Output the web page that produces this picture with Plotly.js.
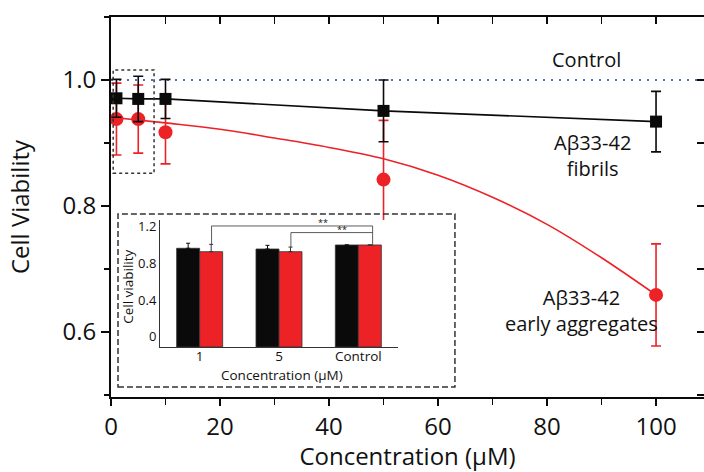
<!DOCTYPE html>
<html>
<head>
<meta charset="utf-8">
<script src="https://cdn.plot.ly/plotly-3.0.1.min.js"></script>
<style>html,body{margin:0;padding:0;background:#fff;}#chart{width:704px;height:472px;}</style>
</head>
<body>
<div id="chart"></div>
<script>
// ---- main chart data ----
const concentrations = [1, 5, 10, 50, 100];
const fibrilsViability = [0.971, 0.970, 0.970, 0.951, 0.934];
const fibrilsError = [0.030, 0.036, 0.031, 0.049, 0.048];
const earlyViability = [0.938, 0.938, 0.917, 0.842, 0.659];
const earlyError = [0.057, 0.054, 0.050, 0.094, 0.081];
// fitted curve for early aggregates
const fitConc = [0, 10, 20, 30, 40, 50, 60, 70, 80, 90, 100];
const fitViability = [0.941, 0.932, 0.922, 0.908, 0.893, 0.875, 0.849, 0.814, 0.771, 0.718, 0.659];
const controlLevel = [1.0, 1.0];
const controlConc = [0, 110];
// ---- inset data ----
const insetCategories = ['1', '5', 'Control'];
const insetFibrils = [0.964, 0.956, 1.0];
const insetFibrilsErr = [0.055, 0.040, 0.0];
const insetEarly = [0.927, 0.927, 1.0];
const insetEarlyErr = [0.080, 0.050, 0.0];

const RED = '#ec2227';
const BLK = '#0a0a0a';
const FONT = 'Open Sans';
const insetBase = -0.112;

const traces = [
  {x: controlConc, y: controlLevel, mode: 'lines', line: {color: '#4a6fd0', width: 2, dash: '2px,6px'}, hoverinfo: 'skip'},
  {x: fitConc, y: fitViability, mode: 'lines', line: {color: RED, width: 1.6, shape: 'spline'}},
  {x: concentrations, y: earlyViability, mode: 'markers',
   marker: {symbol: 'circle', size: 14, color: RED},
   error_y: {type: 'data', array: earlyError, color: RED, thickness: 1.6, width: 5}},
  {x: concentrations, y: fibrilsViability, mode: 'lines+markers',
   line: {color: BLK, width: 1.6},
   marker: {symbol: 'square', size: 12, color: BLK},
   error_y: {type: 'data', array: fibrilsError, color: BLK, thickness: 1.6, width: 5}},
  {x: [], y: [], xaxis: 'x2', yaxis: 'y2', mode: 'markers'},
  // inset bars
  {type: 'bar', x: insetCategories, y: insetFibrils.map(v => v - insetBase), base: insetBase,
   xaxis: 'x3', yaxis: 'y3', marker: {color: BLK, line: {color: '#333', width: 0.8}},
   error_y: {type: 'data', symmetric: false, array: insetFibrilsErr, arrayminus: [0, 0, 0], color: BLK, thickness: 1, width: 2}},
  {type: 'bar', x: insetCategories, y: insetEarly.map(v => v - insetBase), base: insetBase,
   xaxis: 'x3', yaxis: 'y3', marker: {color: RED, line: {color: '#333', width: 0.8}},
   error_y: {type: 'data', symmetric: false, array: insetEarlyErr, arrayminus: [0, 0, 0], color: '#333', thickness: 1, width: 2}}
];

const xr = [0, 108.8];
const yr = [0.497, 1.1];

const layout = {
  width: 704, height: 472,
  margin: {l: 111, r: 0, t: 17, b: 75},
  paper_bgcolor: '#fff', plot_bgcolor: '#fff',
  showlegend: false,
  font: {family: FONT, color: '#111'},
  barmode: 'group', bargap: 0.42, bargroupgap: 0,
  xaxis: {range: xr, showgrid: false, zeroline: false, showline: true, linecolor: BLK, linewidth: 2,
    ticks: 'outside', tickmode: 'linear', tick0: 0, dtick: 20, ticklen: 7, tickwidth: 1.5, tickcolor: BLK,
    minor: {ticks: 'outside', dtick: 10, ticklen: 6, tickwidth: 1.5, tickcolor: BLK},
    tickfont: {family: FONT, size: 24, color: '#111'},
    title: {text: 'Concentration (μM)', font: {family: FONT, size: 24, color: '#111'}, standoff: 21}},
  yaxis: {range: yr, showgrid: false, zeroline: false, showline: true, linecolor: BLK, linewidth: 2,
    ticks: 'outside', tickmode: 'linear', tick0: 0.6, dtick: 0.2, ticklen: 8, tickwidth: 1.5, tickcolor: BLK,
    minor: {ticks: 'outside', dtick: 0.1, ticklen: 5, tickwidth: 1.5, tickcolor: BLK},
    tickformat: '.1f',
    tickfont: {family: FONT, size: 24, color: '#111'},
    title: {text: 'Cell Viability', font: {family: FONT, size: 24, color: '#111'}, standoff: 26}},
  xaxis2: {overlaying: 'x', side: 'top', anchor: 'y2', range: xr, showgrid: false, zeroline: false,
    showline: true, linecolor: BLK, linewidth: 2, ticks: 'inside', tickmode: 'linear', tick0: 0, dtick: 10,
    ticklen: 7, tickwidth: 1.5, tickcolor: BLK, showticklabels: false},
  yaxis2: {overlaying: 'y', side: 'right', anchor: 'x2', range: yr, showgrid: false, zeroline: false,
    showline: false, ticks: 'inside', tickmode: 'linear', tick0: 0.6, dtick: 0.1,
    ticklen: 7, tickwidth: 1.5, tickcolor: BLK, showticklabels: false},
  xaxis3: {domain: [0.0826, 0.484], anchor: 'y3', type: 'category', range: [-0.5, 2.5],
    showgrid: false, zeroline: false, showline: true, linecolor: '#333', linewidth: 1, ticks: '',
    ticklabelstandoff: -3,
    tickfont: {family: FONT, size: 13.5, color: '#111'}},
  yaxis3: {domain: [0.1316, 0.466], anchor: 'x3', range: [insetBase, 1.273],
    showgrid: false, zeroline: false, showline: true, linecolor: '#333', linewidth: 1, ticks: '',
    tickmode: 'array', tickvals: [0, 0.4, 0.8, 1.2], ticktext: ['0', '0.4', '0.8', '1.2'],
    tickfont: {family: FONT, size: 13, color: '#111'}},
  shapes: [
    // dashed box around low concentrations
    {type: 'rect', xref: 'x', yref: 'y', x0: 0.4, x1: 7.9, y0: 0.852, y1: 1.016,
     line: {color: '#333', width: 1.5, dash: '3px,3px'}},
    // inset border
    {type: 'rect', xref: 'paper', yref: 'paper', x0: 0.0118, x1: 0.580, y0: 0.0263, y1: 0.4816,
     line: {color: '#333', width: 1.5, dash: '6px,3px'}},
    // significance brackets
    {type: 'path', xref: 'x3', yref: 'y3', path: 'M 0.15 1.007 L 0.15 1.207 L 2.18 1.207 L 2.18 0.99',
     line: {color: '#333', width: 0.8}},
    {type: 'path', xref: 'x3', yref: 'y3', path: 'M 1.15 0.978 L 1.15 1.135 L 2.18 1.135',
     line: {color: '#333', width: 0.8}}
  ],
  annotations: [
    {xref: 'x', yref: 'y', x: 87.3, y: 1.033, text: 'Control', showarrow: false,
     font: {family: FONT, size: 20, color: '#111'}},
    {xref: 'x', yref: 'y', x: 88.4, y: 0.880, text: 'Aβ33-42<br>fibrils', showarrow: false,
     font: {family: FONT, size: 20, color: '#111'}},
    {xref: 'x', yref: 'y', x: 86.4, y: 0.635, text: 'Aβ33-42<br>early aggregates', showarrow: false,
     font: {family: FONT, size: 20, color: '#111'}},
    {xref: 'x3', yref: 'y3', x: 1.55, y: 1.244, text: '**', showarrow: false,
     font: {family: FONT, size: 9, color: '#111'}},
    {xref: 'x3', yref: 'y3', x: 1.80, y: 1.164, text: '**', showarrow: false,
     font: {family: FONT, size: 9, color: '#111'}},
    {xref: 'paper', yref: 'paper', x: 0.288, y: 0.057, xanchor: 'center', yanchor: 'middle',
     text: 'Concentration (μM)', showarrow: false,
     font: {family: FONT, size: 13.5, color: '#111'}},
    {xref: 'paper', yref: 'paper', x: 0.0287, y: 0.290, xanchor: 'center', yanchor: 'middle',
     text: 'Cell viability', textangle: -90, showarrow: false,
     font: {family: FONT, size: 13.5, color: '#111'}}
  ]
};

Plotly.newPlot('chart', traces, layout, {staticPlot: true, displayModeBar: false});
</script>
</body>
</html>
